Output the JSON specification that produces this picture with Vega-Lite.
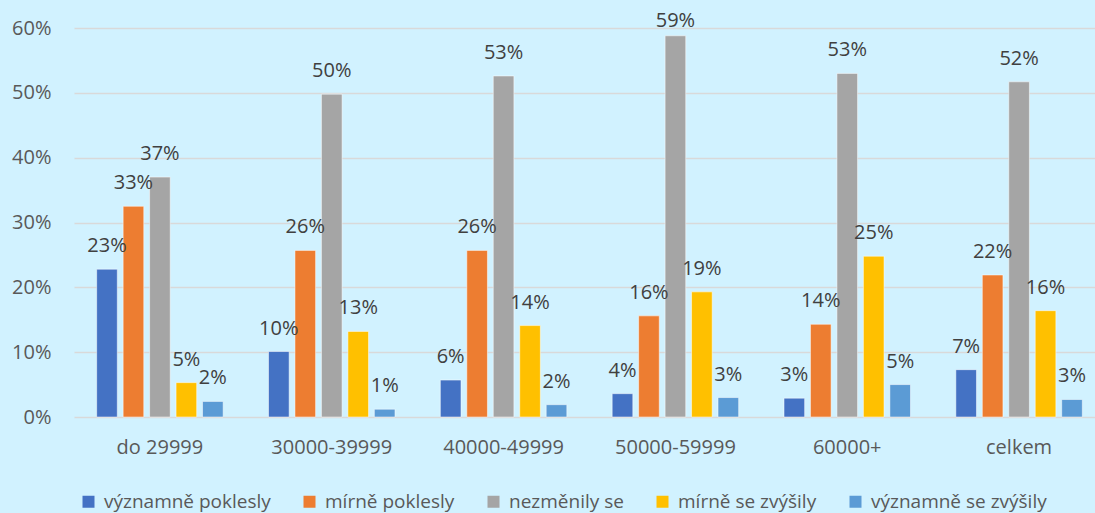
{
  "$schema": "https://vega.github.io/schema/vega-lite/v6.json",
  "width": 1021,
  "height": 389,
  "autosize": "none",
  "padding": {"left": 74, "top": 28, "right": 0, "bottom": 96},
  "background": "#D1F2FF",
  "config": {"view": {"stroke": null}, "font": "Open Sans"},
  "data": {"values": [
    {"group": "do 29999", "series": "významně poklesly", "value": 0.228},
    {"group": "do 29999", "series": "mírně poklesly", "value": 0.325},
    {"group": "do 29999", "series": "nezměnily se", "value": 0.370},
    {"group": "do 29999", "series": "mírně se zvýšily", "value": 0.053},
    {"group": "do 29999", "series": "významně se zvýšily", "value": 0.024},
    {"group": "30000-39999", "series": "významně poklesly", "value": 0.101},
    {"group": "30000-39999", "series": "mírně poklesly", "value": 0.257},
    {"group": "30000-39999", "series": "nezměnily se", "value": 0.498},
    {"group": "30000-39999", "series": "mírně se zvýšily", "value": 0.132},
    {"group": "30000-39999", "series": "významně se zvýšily", "value": 0.012},
    {"group": "40000-49999", "series": "významně poklesly", "value": 0.057},
    {"group": "40000-49999", "series": "mírně poklesly", "value": 0.257},
    {"group": "40000-49999", "series": "nezměnily se", "value": 0.526},
    {"group": "40000-49999", "series": "mírně se zvýšily", "value": 0.141},
    {"group": "40000-49999", "series": "významně se zvýšily", "value": 0.019},
    {"group": "50000-59999", "series": "významně poklesly", "value": 0.036},
    {"group": "50000-59999", "series": "mírně poklesly", "value": 0.156},
    {"group": "50000-59999", "series": "nezměnily se", "value": 0.588},
    {"group": "50000-59999", "series": "mírně se zvýšily", "value": 0.193},
    {"group": "50000-59999", "series": "významně se zvýšily", "value": 0.030},
    {"group": "60000+", "series": "významně poklesly", "value": 0.029},
    {"group": "60000+", "series": "mírně poklesly", "value": 0.143},
    {"group": "60000+", "series": "nezměnily se", "value": 0.530},
    {"group": "60000+", "series": "mírně se zvýšily", "value": 0.248},
    {"group": "60000+", "series": "významně se zvýšily", "value": 0.050},
    {"group": "celkem", "series": "významně poklesly", "value": 0.073},
    {"group": "celkem", "series": "mírně poklesly", "value": 0.219},
    {"group": "celkem", "series": "nezměnily se", "value": 0.517},
    {"group": "celkem", "series": "mírně se zvýšily", "value": 0.164},
    {"group": "celkem", "series": "významně se zvýšily", "value": 0.027}
  ]},
  "encoding": {
    "x": {
      "field": "group", "type": "nominal",
      "sort": ["do 29999", "30000-39999", "40000-49999", "50000-59999", "60000+", "celkem"],
      "scale": {"range": [0, 1031], "paddingInner": 0.23, "paddingOuter": 0.115},
      "axis": {"title": null, "domain": false, "ticks": false, "labelAngle": 0, "labelPadding": 20, "labelFontSize": 20, "labelColor": "#595959", "grid": false}
    },
    "xOffset": {
      "field": "series", "type": "nominal",
      "sort": ["významně poklesly", "mírně poklesly", "nezměnily se", "mírně se zvýšily", "významně se zvýšily"],
      "scale": {"paddingInner": 0.22, "paddingOuter": 0.11}
    },
    "y": {
      "field": "value", "type": "quantitative",
      "scale": {"domain": [0, 0.6]},
      "axis": {"title": null, "format": ".0%", "values": [0, 0.1, 0.2, 0.3, 0.4, 0.5, 0.6], "domain": false, "ticks": false, "labelPadding": 23, "labelFontSize": 20, "labelColor": "#595959", "gridColor": "#D9D9D9", "gridWidth": 1.5}
    }
  },
  "layer": [
    {
      "mark": {"type": "bar", "stroke": "#ffffff", "strokeOpacity": 0.5, "strokeWidth": 1},
      "encoding": {
        "color": {
          "field": "series", "type": "nominal",
          "scale": {
            "domain": ["významně poklesly", "mírně poklesly", "nezměnily se", "mírně se zvýšily", "významně se zvýšily"],
            "range": ["#4472C4", "#ED7D31", "#A5A5A5", "#FFC000", "#5B9BD5"]
          },
          "legend": {
            "title": null, "orient": "none", "direction": "horizontal",
            "legendX": 5, "legendY": 464, "padding": 0,
            "symbolType": "square", "symbolSize": 144, "symbolStrokeWidth": 0,
            "labelFontSize": 19, "labelColor": "#595959", "labelOffset": 6,
            "columnPadding": 29, "labelLimit": 300
          }
        }
      }
    },
    {
      "transform": [{"filter": "datum.value < 0.58"}],
      "mark": {"type": "text", "dy": -17, "baseline": "alphabetic", "fontSize": 20, "color": "#404040"},
      "encoding": {"text": {"field": "value", "type": "quantitative", "format": ".0%"}}
    },
    {
      "transform": [{"filter": "datum.value >= 0.58"}],
      "mark": {"type": "text", "dy": -9, "baseline": "alphabetic", "fontSize": 20, "color": "#404040"},
      "encoding": {"text": {"field": "value", "type": "quantitative", "format": ".0%"}}
    }
  ]
}
